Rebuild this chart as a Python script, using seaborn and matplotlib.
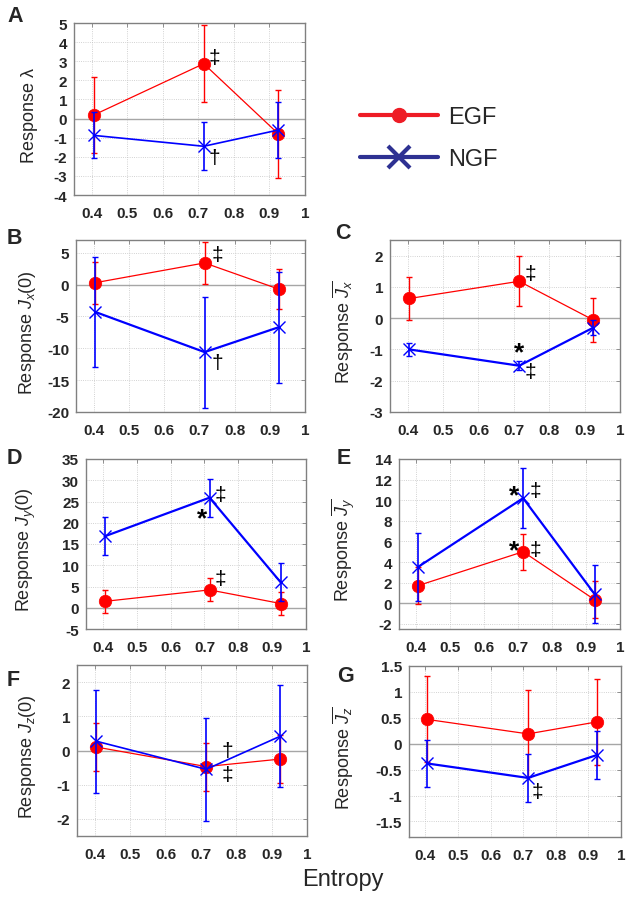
import numpy as np
import pandas as pd
import matplotlib
matplotlib.use("Agg")
import matplotlib.pyplot as plt
import seaborn as sns
from matplotlib.lines import Line2D
from matplotlib.ticker import FuncFormatter

sns.set_theme(style="white")
plt.rcParams["font.family"] = ["Liberation Sans", "DejaVu Sans"]
plt.rcParams["mathtext.fontset"] = "custom"
plt.rcParams["mathtext.rm"] = "Liberation Sans"
plt.rcParams["mathtext.it"] = "Liberation Sans:italic"
plt.rcParams["mathtext.bf"] = "Liberation Sans:bold"

# ---------------- data ----------------
entropy = [0.405, 0.715, 0.925]
xticks = [0.4, 0.5, 0.6, 0.7, 0.8, 0.9, 1.0]
series_names = ["EGF", "NGF"]

# A : lambda
a_egf = [0.18, 2.87, -0.80]
a_egf_err = [2.0, 2.0, 2.3]
a_ngf = [-0.88, -1.45, -0.60]
a_ngf_err = [1.2, 1.25, 1.45]
# B : Jx(0)
b_egf = [0.3, 3.4, -0.7]
b_egf_err = [3.3, 3.3, 3.2]
b_ngf = [-4.3, -10.6, -6.7]
b_ngf_err = [8.7, 8.7, 8.7]
# C : mean Jx
c_egf = [0.63, 1.18, -0.06]
c_egf_err = [0.68, 0.8, 0.69]
c_ngf = [-1.0, -1.52, -0.3]
c_ngf_err = [0.22, 0.15, 0.25]
# D : Jy(0)
d_egf = [1.5, 4.2, 1.0]
d_egf_err = [2.7, 2.7, 2.7]
d_ngf = [16.8, 25.9, 6.0]
d_ngf_err = [4.5, 4.5, 4.5]
# E : mean Jy
e_egf = [1.7, 5.0, 0.35]
e_egf_err = [1.8, 1.75, 1.8]
e_ngf = [3.5, 10.2, 0.9]
e_ngf_err = [3.3, 2.9, 2.8]
# F : Jz(0)
f_egf = [0.1, -0.47, -0.25]
f_egf_err = [0.7, 0.7, 0.7]
f_ngf = [0.27, -0.55, 0.42]
f_ngf_err = [1.5, 1.5, 1.5]
# G : mean Jz
g_egf = [0.47, 0.19, 0.42]
g_egf_err = [0.83, 0.84, 0.83]
g_ngf = [-0.38, -0.66, -0.22]
g_ngf_err = [0.46, 0.46, 0.46]

panel_letters = ["A", "B", "C", "D", "E", "F", "G"]
ylabels = [
    "Response λ",
    r"Response $J_x\mathrm{(0)}$",
    r"Response $\overline{J_x}$",
    r"Response $J_y\mathrm{(0)}$",
    r"Response $\overline{J_y}$",
    r"Response $J_z\mathrm{(0)}$",
    r"Response $\overline{J_z}$",
]
ylims = [(-4, 5), (-20, 7), (-3, 2.5), (-5, 35), (-2.5, 14), (-2.5, 2.5), (-1.8, 1.5)]
yticks = [
    list(range(-4, 6)),
    [-20, -15, -10, -5, 0, 5],
    [-3, -2, -1, 0, 1, 2],
    [-5, 0, 5, 10, 15, 20, 25, 30, 35],
    [-2, 0, 2, 4, 6, 8, 10, 12, 14],
    [-2, -1, 0, 1, 2],
    [-1.5, -1, -0.5, 0, 0.5, 1, 1.5],
]
# significance marks: (text, x, y)
marks = [
    [("‡", 0.745, 3.2), ("†", 0.745, -2.05)],
    [("‡", 0.752, 4.7), ("†", 0.752, -12.2)],
    [("‡", 0.748, 1.42), ("*", 0.715, -1.1), ("‡", 0.748, -1.71)],
    [("‡", 0.748, 26.6), ("*", 0.693, 21.0), ("‡", 0.748, 6.8)],
    [("*", 0.688, 10.5), ("‡", 0.75, 10.9), ("*", 0.688, 5.1), ("‡", 0.752, 5.2)],
    [("†", 0.775, 0.0), ("‡", 0.775, -0.7)],
    [("‡", 0.745, -0.92)],
]

egf_means = [a_egf, b_egf, c_egf, d_egf, e_egf, f_egf, g_egf]
egf_errs = [a_egf_err, b_egf_err, c_egf_err, d_egf_err, e_egf_err, f_egf_err, g_egf_err]
ngf_means = [a_ngf, b_ngf, c_ngf, d_ngf, e_ngf, f_ngf, g_ngf]
ngf_errs = [a_ngf_err, b_ngf_err, c_ngf_err, d_ngf_err, e_ngf_err, f_ngf_err, g_ngf_err]

# ---------------- layout (pixels) ----------------
W, H = 632, 904
boxes = [  # left, right, top, bottom
    (74, 305, 24, 196),
    (76, 305, 241, 413),
    (390, 620, 241, 413),
    (86, 306, 460, 630),
    (399, 620, 460, 630),
    (77, 307, 666, 837),
    (409, 621, 667, 838),
]
letter_pos = [(7, 6), (7, 228), (335, 223), (7, 448), (337, 448), (7, 670), (337, 666)]
ngf_lw = [1.2, 1.6, 1.6, 1.6, 1.6, 1.2, 1.6]

fig = plt.figure(figsize=(W / 100, H / 100), dpi=100)
fig.patch.set_facecolor("white")

red = "#ff0000"
blue = "#0000ff"
fmt = FuncFormatter(lambda v, p: ("%g" % v))

for i in range(7):
    l, r, t, b = boxes[i]
    ax = fig.add_axes([l / W, 1 - b / H, (r - l) / W, (b - t) / H])
    ax.set_facecolor("white")
    df = pd.DataFrame({
        "entropy": entropy * 2,
        "value": egf_means[i] + ngf_means[i],
        "err": egf_errs[i] + ngf_errs[i],
        "series": [series_names[0]] * 3 + [series_names[1]] * 3,
    })
    ax.axhline(0, color="#a6a6a6", lw=1.0, zorder=1)
    egf = df[df.series == "EGF"]
    ngf = df[df.series == "NGF"]
    ax.errorbar(egf.entropy, egf.value, yerr=egf.err, fmt="none", ecolor=red,
                elinewidth=1.0, capsize=2.5, capthick=1.0, zorder=3)
    sns.lineplot(data=egf, x="entropy", y="value", ax=ax, color=red, lw=0.9,
                 marker="o", markersize=9, markeredgecolor=red,
                 markerfacecolor=red, markeredgewidth=0.5, zorder=4, legend=False)
    ax.errorbar(ngf.entropy, ngf.value, yerr=ngf.err, fmt="none", ecolor=blue,
                elinewidth=1.2, capsize=2.5, capthick=1.0, zorder=5)
    sns.lineplot(data=ngf, x="entropy", y="value", ax=ax, color=blue, lw=ngf_lw[i],
                 marker="x", markersize=9, markeredgecolor=blue,
                 markeredgewidth=1.0, zorder=6, legend=False)

    ax.set_xlim(0.35, 1.0)
    ax.set_ylim(*ylims[i])
    ax.set_xticks(xticks)
    ax.set_yticks(yticks[i])
    ax.xaxis.set_major_formatter(fmt)
    ax.yaxis.set_major_formatter(fmt)
    ax.grid(True, ls=":", color="#c4c4c4", lw=0.6)
    ax.tick_params(axis="both", direction="in", length=3, width=0.6, color="#808080",
                   top=True, right=True, labelsize=11)
    ax.tick_params(axis="x", pad=8)
    ax.tick_params(axis="y", pad=5)
    for lab in ax.get_xticklabels() + ax.get_yticklabels():
        lab.set_fontweight("bold")
    for sp in ax.spines.values():
        sp.set_color("#808080")
        sp.set_linewidth(1.0)
        sp.set_visible(True)
    ax.set_xlabel("")
    ax.set_ylabel(ylabels[i], fontsize=13)
    lab_x = 38 if l < 200 else 356
    ax.yaxis.set_label_coords((lab_x - l) / (r - l), 0.47)
    for txt, mx, my in marks[i]:
        if txt == "*":
            ax.text(mx, my, txt, fontsize=19, ha="center", va="center", color="black",
                    zorder=7, fontweight="bold")
        else:
            ax.text(mx, my, txt, fontsize=15, ha="center", va="center", color="black",
                    zorder=7)
    lx, ly = letter_pos[i]
    fig.text(lx / W, 1 - ly / H, panel_letters[i], fontsize=15.5, fontweight="bold",
             ha="left", va="top")

fig.text(343 / W, 1 - 880 / H, "Entropy", fontsize=17, ha="center", va="center")

handles = [
    Line2D([], [], color="#ee1c25", lw=3, marker="o", markersize=10,
           markerfacecolor="#ee1c25", markeredgecolor="#ee1c25"),
    Line2D([], [], color="#2e3192", lw=3, marker="x", markersize=16,
           markeredgewidth=3, markeredgecolor="#2e3192"),
]
fig.legend(handles, series_names, loc="upper left", bbox_to_anchor=(360 / W, 1 - 107 / H),
           frameon=False, fontsize=17, handlelength=3.3, handletextpad=0.45,
           labelspacing=0.85, borderpad=0, borderaxespad=0)

fig.savefig("out.png", dpi=100, facecolor="white")
